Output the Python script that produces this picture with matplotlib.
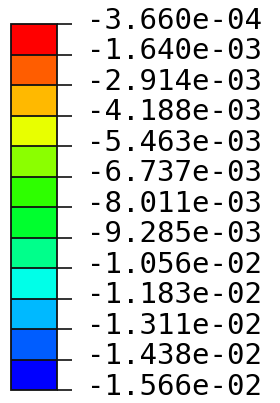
import matplotlib
matplotlib.use("Agg")
import matplotlib.pyplot as plt
from matplotlib.colors import ListedColormap, BoundaryNorm
from matplotlib.transforms import ScaledTranslation

# contour levels, top (max) to bottom (min)
levels = [-3.660e-04, -1.640e-03, -2.914e-03, -4.188e-03, -5.463e-03,
          -6.737e-03, -8.011e-03, -9.285e-03, -1.056e-02, -1.183e-02,
          -1.311e-02, -1.438e-02, -1.566e-02]
tick_labels = ["-3.660e-04", "-1.640e-03", "-2.914e-03", "-4.188e-03",
               "-5.463e-03", "-6.737e-03", "-8.011e-03", "-9.285e-03",
               "-1.056e-02", "-1.183e-02", "-1.311e-02", "-1.438e-02",
               "-1.566e-02"]
# band colours, top to bottom
band_colors = ["#FF0000", "#FF5D00", "#FFB900", "#E8FF00", "#8BFF00",
               "#2EFF00", "#00FF2E", "#00FF8B", "#00FFE8", "#00B9FF",
               "#005DFF", "#0000FF"]

W, H = 280, 403
fig = plt.figure(figsize=(W / 100, H / 100), dpi=100)

bounds = levels[::-1]
cmap = ListedColormap(band_colors[::-1])
norm = BoundaryNorm(bounds, cmap.N)

cax = fig.add_axes([11 / W, (H - 390) / H, 46 / W, 366 / H])
sm = plt.cm.ScalarMappable(norm=norm, cmap=cmap)
cb = fig.colorbar(sm, cax=cax, ticks=bounds, drawedges=True, spacing="uniform")
cb.outline.set_linewidth(1.3)
cb.outline.set_edgecolor("#111111")
cb.dividers.set_color("#111111")
cb.dividers.set_linewidth(1.3)
cb.set_ticklabels(tick_labels[::-1])
cax.tick_params(axis="y", length=10.5, width=1.2, color="#111111", pad=11,
                labelsize=21)

# nudge labels slightly above their tick, like the original
shift = ScaledTranslation(0, 2.5 / 72, fig.dpi_scale_trans)
for lab in cax.get_yticklabels():
    lab.set_family("DejaVu Sans Mono")
    lab.set_va("center")
    lab.set_transform(lab.get_transform() + shift)

fig.savefig("out.png", dpi=100)
